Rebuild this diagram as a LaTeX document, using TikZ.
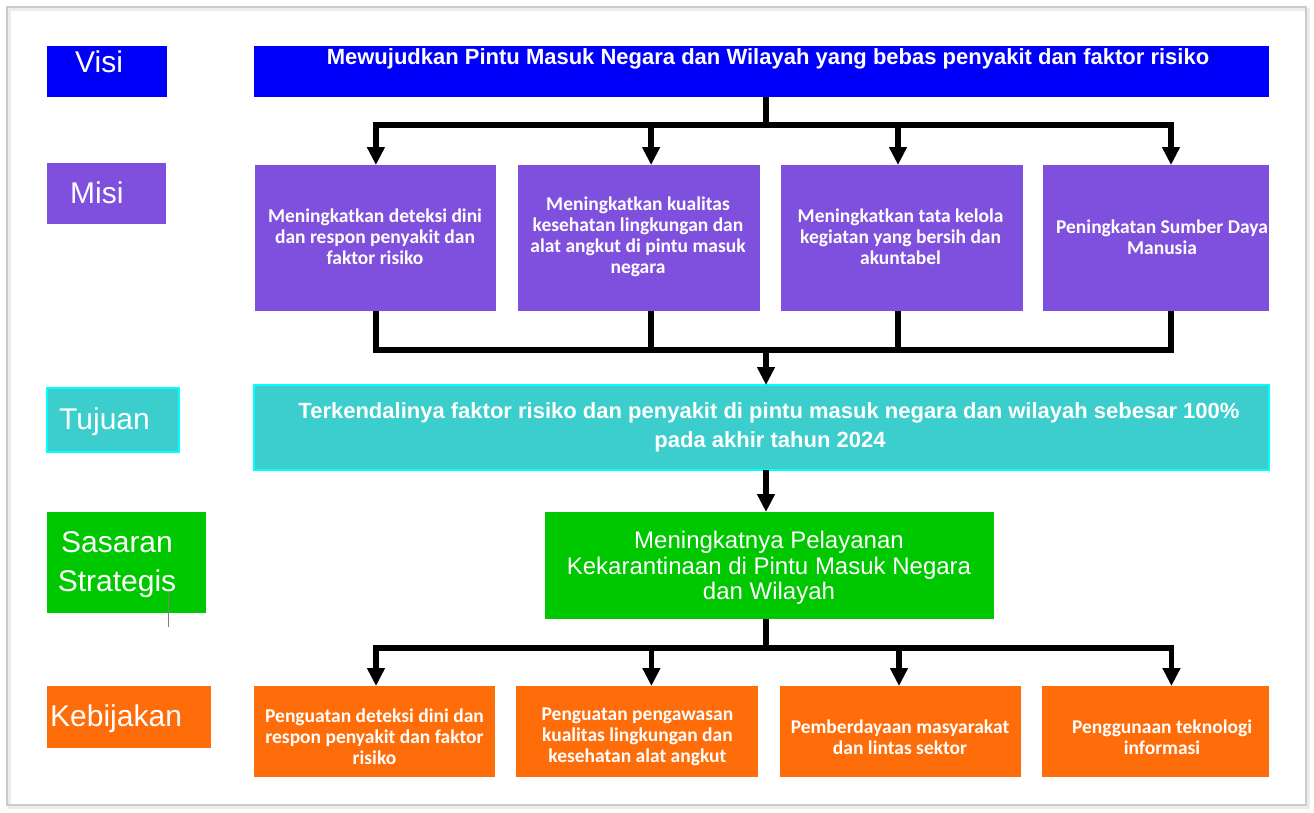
\documentclass[tikz,border=0pt]{standalone}
\usepackage{fontspec}
\setmainfont{Liberation Sans}
\newfontfamily\carl{Carlito}
\usetikzlibrary{arrows.meta}
\definecolor{cblue}{RGB}{0,0,250}
\definecolor{cpurple}{RGB}{127,80,221}
\definecolor{cteal}{RGB}{60,205,205}
\definecolor{ccyan}{RGB}{0,255,255}
\definecolor{cgreen}{RGB}{0,200,0}
\definecolor{corange}{RGB}{255,108,10}
\begin{document}
\begin{tikzpicture}[x=1pt,y=-1pt,
  bx/.style={inner sep=0pt, outer sep=0pt, anchor=north west},
  lbl/.style={inner sep=0pt, text=white, anchor=base west, font=\fontsize{30}{36}\selectfont},
  mtxt/.style={inner sep=0pt, text=white, align=center, font=\carl\bfseries\fontsize{19.5}{21}\selectfont},
  btxt/.style={inner sep=0pt, text=white, anchor=base, font=\bfseries\fontsize{22}{29}\selectfont},
  ln/.style={line width=5.5pt, black},
  arr/.style={ln, -{Triangle[length=18pt,width=17pt]}}
]
\useasboundingbox (0,0) rectangle (1314,812);
% page frame
\draw[gray!15, line width=3pt] (9,9) rectangle (1308,807);
\draw[gray!40, line width=1.5pt] (7,7) rectangle (1306,805);

% ---- row labels
\node[bx, fill=cblue, minimum width=120pt, minimum height=51pt] (lvisi) at (47,46) {};
\node[lbl] (lvisit) at (75,72) {Visi};
\node[bx, fill=cpurple, minimum width=119pt, minimum height=61pt] (lmisi) at (47,163) {};
\node[lbl] (lmisit) at (70,203) {Misi};
\node[bx, fill=cteal, draw=ccyan, line width=2pt, minimum width=132pt, minimum height=64pt] (ltuj) at (47,388) {};
\node[lbl] (ltujt) at (59,429) {Tujuan};
\node[bx, fill=cgreen, minimum width=159pt, minimum height=101pt] (lsas) at (47,512) {};
\node[lbl, anchor=base] (lsast1) at (117,552) {Sasaran};
\node[lbl, anchor=base] (lsast2) at (117,591) {Strategis};
\node[bx, fill=corange, minimum width=164pt, minimum height=62pt] (lkeb) at (47,686) {};
\node[lbl] (lkebt) at (50,726) {Kebijakan};
\coordinate (cur1) at (168,593);
\coordinate (cur2) at (168,627);
\draw[gray, line width=1pt] (cur1) -- (cur2);

% ---- Visi
\node[bx, fill=cblue, minimum width=1015pt, minimum height=51pt] (visi) at (254,46) {};
\node[btxt] (visit) at (768,64) {Mewujudkan Pintu Masuk Negara dan Wilayah yang bebas penyakit dan faktor risiko};

% ---- Misi
\node[bx, fill=cpurple, minimum width=241pt, minimum height=146pt] (m1) at (254.6,165) {};
\node[bx, fill=cpurple, minimum width=242pt, minimum height=146pt] (m2) at (517.7,165) {};
\node[bx, fill=cpurple, minimum width=242pt, minimum height=146pt] (m3) at (780.7,165) {};
\node[bx, fill=cpurple, minimum width=226pt, minimum height=146pt] (m4) at (1043.3,165) {};
\node[mtxt] (m1t) at (375,237) {Meningkatkan deteksi dini\\dan respon penyakit dan\\faktor risiko};
\node[mtxt] (m2t) at (638,237) {Meningkatkan kualitas\\kesehatan lingkungan dan\\alat angkut di pintu masuk\\negara};
\node[mtxt] (m3t) at (900.6,237) {Meningkatkan tata kelola\\kegiatan yang bersih dan\\akuntabel};
\node[mtxt] (m4t) at (1162,237) {Peningkatan Sumber Daya\\Manusia};

% ---- Tujuan
\node[bx, fill=cteal, draw=ccyan, line width=2pt, minimum width=1015pt, minimum height=85pt] (tuj) at (254,385) {};
\node[btxt] (tujt1) at (769,418) {Terkendalinya faktor risiko dan penyakit di pintu masuk negara dan wilayah sebesar 100\%};
\node[btxt] (tujt2) at (770,447) {pada akhir tahun 2024};

% ---- Sasaran
\node[bx, fill=cgreen, minimum width=449pt, minimum height=107pt] (sas) at (545,512) {};
\node[inner sep=0pt, text=white, align=center, font=\fontsize{24}{25.5}\selectfont] (sast) at (769,568) {Meningkatnya Pelayanan\\Kekarantinaan di Pintu Masuk Negara\\dan Wilayah};

% ---- Kebijakan
\node[bx, fill=corange, minimum width=241pt, minimum height=91pt] (k1) at (254,686) {};
\node[bx, fill=corange, minimum width=242pt, minimum height=91pt] (k2) at (516.4,686) {};
\node[bx, fill=corange, minimum width=241.6pt, minimum height=91pt] (k3) at (779.8,686) {};
\node[bx, fill=corange, minimum width=227.7pt, minimum height=91pt] (k4) at (1041.6,686) {};
\node[mtxt] (k1t) at (374.5,737) {Penguatan deteksi dini dan\\respon penyakit dan faktor\\risiko};
\node[mtxt] (k2t) at (637.4,737) {Penguatan pengawasan\\kualitas lingkungan dan\\kesehatan alat angkut};
\node[mtxt] (k3t) at (900,737) {Pemberdayaan masyarakat\\dan lintas sektor};
\node[mtxt] (k4t) at (1162,737) {Penggunaan teknologi\\informasi};

% ---- connectors
\coordinate (t1) at (766,125);
\coordinate (t2) at (766,350);
\coordinate (t4) at (766,648);
\coordinate (x766) at (766,0);
% tree 1
\draw[ln] (t1 |- visi.south) -- (t1);
\draw[arr] (t1) -| ([xshift=0.8pt]m1.north);
\draw[arr] (t1) -| ([xshift=12.4pt]m2.north);
\draw[arr] (t1) -| ([xshift=-3.7pt]m3.north);
\draw[arr] (t1) -| ([xshift=14.7pt]m4.north);
% tree 2
\draw[ln] ([xshift=0.8pt]m1.south) |- (t2);
\draw[ln] ([xshift=12.4pt]m2.south) |- (t2);
\draw[ln] ([xshift=-3.7pt]m3.south) |- (t2);
\draw[ln] ([xshift=14.7pt]m4.south) |- (t2);
\draw[arr] (t2) -- (t2 |- tuj.north);
% tree 3
\draw[arr] (tuj.south -| x766) -- (sas.north -| x766);
% tree 4
\draw[ln] (sas.south -| t4) -- (t4);
\draw[arr] (t4) -| ([xshift=1.5pt]k1.north);
\draw[arr] (t4) -| ([xshift=14pt]k2.north);
\draw[arr] (t4) -| ([xshift=-1.6pt]k3.north);
\draw[arr] (t4) -| ([xshift=16pt]k4.north);
\end{tikzpicture}
\end{document}
